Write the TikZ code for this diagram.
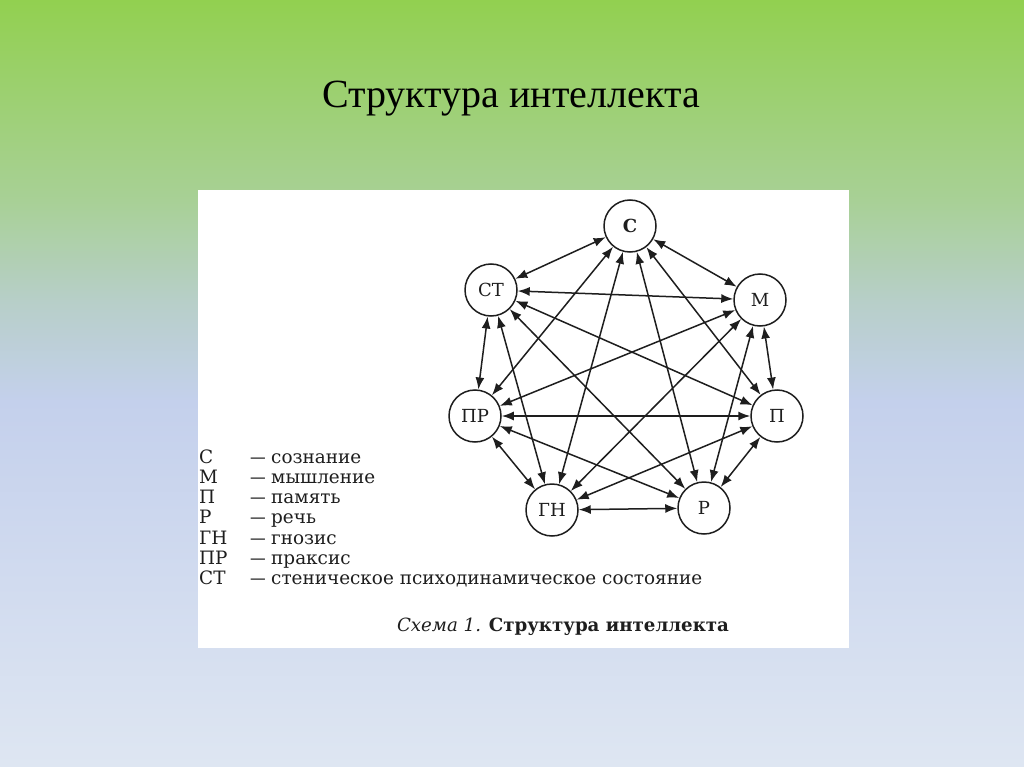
\documentclass[tikz,border=0pt]{standalone}
\usepackage{fontspec}
\usepackage{graphicx}
\setmainfont{Liberation Serif}
\newfontfamily\scanfont{DejaVu Serif}
\usetikzlibrary{arrows.meta}
\definecolor{g0}{RGB}{146,208,80}
\definecolor{g1}{RGB}{168,208,150}
\definecolor{g2}{RGB}{183,207,200}
\definecolor{g3}{RGB}{196,208,236}
\definecolor{g4}{RGB}{222,230,242}
\definecolor{ink}{RGB}{30,30,30}
\tikzset{
  vert/.style={circle,draw=ink,line width=1.5pt,minimum size=52pt,inner sep=0pt,
    font=\scanfont\fontsize{18}{18}\selectfont,text=ink},
  link/.style={{Latex[length=12pt,width=9pt]}-{Latex[length=12pt,width=9pt]},line width=1.5pt,draw=ink},
  legend/.style={anchor=base west,inner sep=0pt,font=\scanfont\fontsize{18.4}{18.4}\selectfont,text=ink},
}
\begin{document}
\begin{tikzpicture}[x=1pt,y=-1pt]
\useasboundingbox (0,0) rectangle (1024,767);
% background gradient
\shade[top color=g0,bottom color=g1] (0,0) rectangle (1024,201);
\shade[top color=g1,bottom color=g2] (0,200) rectangle (1024,301);
\shade[top color=g2,bottom color=g3] (0,300) rectangle (1024,401);
\shade[top color=g3,bottom color=g4] (0,400) rectangle (1024,767);
% title
\node[anchor=base] (title) at (511,108) {\fontsize{40}{40}\selectfont Структура интеллекта};
% white panel
\fill[white] (198,190) rectangle (849,648);
% vertices
\node[vert,font=\scanfont\bfseries\fontsize{18}{18}\selectfont] (S) at (630,226) {С};
\node[vert] (ST) at (491,290) {СТ};
\node[vert] (M) at (760,300) {М};
\node[vert] (PR) at (475,416) {ПР};
\node[vert] (P) at (777,416) {П};
\node[vert] (GN) at (552,510) {ГН};
\node[vert] (R) at (704,508) {Р};
% connectors (complete graph)
\foreach \a/\b in {S/ST,S/M,S/PR,S/P,S/GN,S/R,
                   ST/M,ST/PR,ST/P,ST/GN,ST/R,
                   M/PR,M/P,M/GN,M/R,
                   PR/P,PR/GN,PR/R,
                   P/GN,P/R,
                   GN/R}
  \draw[link] (\a) -- (\b);
% legend
\foreach \k/\t/\yy [count=\i] in {С/сознание/463,М/мышление/483,П/память/503,Р/речь/523,ГН/гнозис/544,ПР/праксис/564,СТ/стеническое психодинамическое состояние/584}{
  \node[legend] (lk\i) at (199,\yy) {\k};
  \node[legend] (ld\i) at (250,\yy) {\scalebox{0.85}[1]{—}};
  \node[legend] (lt\i) at (271,\yy) {\t};
}
% caption
\node[anchor=base,inner sep=0pt,text=ink] (cap) at (563,631)
  {\scanfont\fontsize{18.2}{18.2}\selectfont\textit{Схема 1.} \textbf{Структура интеллекта}};
\end{tikzpicture}
\end{document}
